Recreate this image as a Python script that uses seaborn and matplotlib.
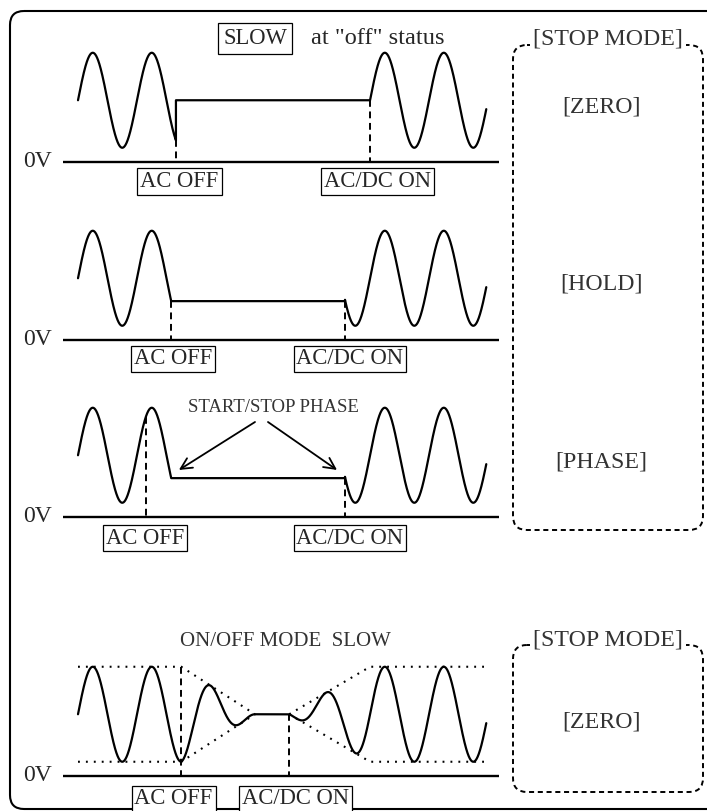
import numpy as np
import matplotlib
matplotlib.use("Agg")
import matplotlib.pyplot as plt
from matplotlib.patches import FancyBboxPatch
import seaborn as sns

# ---------------- data (time in AC cycles, voltage in units of AC amplitude) ----------------
modes = ["ZERO", "HOLD", "PHASE", "SLOW"]
dc_level = 1.3                 # output level of the "0" of the AC, above 0V
ac_amplitude = 1.0
t_begin, t_end = 0.0, 6.92     # drawn span of the waveform
axis_span = [-0.25, 7.14]      # extent of the 0V line
restart_ref = 4.95             # phase reference of the restarted AC (rising zero crossing)
off_command = [1.66, 1.58, 1.15, 1.75]    # "AC OFF" instant
output_stop = [1.66, 1.58, 1.58, 1.75]    # where the AC output actually stops
on_command = [4.95, 4.525, 4.525, 3.58]   # "AC/DC ON" instant
slow_fade_end = 3.0            # SLOW: amplitude has decayed to zero
slow_rise_end = 4.95           # SLOW: amplitude back to full
off_label_t = [1.72, 1.61, 1.14, 1.62]
on_label_t = [5.07, 4.61, 4.61, 3.69]
off_label = "AC OFF"
on_label = "AC/DC ON"
zero_label = "0V"
stop_mode_title = "[STOP MODE]"
stop_labels = ["[ZERO]", "[HOLD]", "[PHASE]", "[ZERO]"]
arrow_tails = [(3.00, 2.0), (3.22, 2.0)]
arrow_heads = [(1.71, 0.99), (4.39, 0.99)]

# ---------------- layout (pixels) ----------------
W, H, DPI = 707, 811, 100
panel_zero_px = [162, 340, 517, 776]
label_offset_px = [19.5, 19, 21, 23]
px_per_cycle = 59.0
px_per_unit = 47.5
wave_origin_px = 78.0

sns.set_style("white")
plt.rcParams["font.family"] = ["Liberation Serif", "DejaVu Serif"]

fig = plt.figure(figsize=(W / DPI, H / DPI), dpi=DPI)

# overlay in pixel coordinates for frames and box labels
ov = fig.add_axes([0, 0, 1, 1])
ov.set_xlim(0, W)
ov.set_ylim(H, 0)
ov.axis("off")

frame = FancyBboxPatch((10, 11), 740, 798, boxstyle="round,pad=0,rounding_size=14",
                       fill=False, ec="black", lw=1.5)
ov.add_patch(frame)

gray = "#333333"
for (top, bot, ty) in [(45, 530, 39.5), (645, 792, 640)]:
    ov.add_patch(FancyBboxPatch((513, top), 190, bot - top,
                                boxstyle="round,pad=0,rounding_size=14",
                                fill=False, ec="black", lw=1.4, ls=(0, (2.6, 1.9))))
    ov.text(608, ty, stop_mode_title, ha="center", va="center", fontsize=17.2,
            color=gray, bbox=dict(boxstyle="square,pad=0.12", fc="white", ec="none"))

label_y = [107, 284, 462, 722]
for lab, y in zip(stop_labels, label_y):
    ov.text(601, y, lab, ha="center", va="center", fontsize=17.2, color=gray)


def build_wave(i):
    mode = modes[i]
    t = np.linspace(t_begin, t_end, 3000)
    pre = dc_level + ac_amplitude * np.sin(2 * np.pi * t)
    post = dc_level + ac_amplitude * np.sin(2 * np.pi * (t - restart_ref))
    if mode == "SLOW":
        off, on = off_command[i], on_command[i]
        down = np.clip(1 - (t - off) / (slow_fade_end - off), 0, 1)
        up = np.clip((t - on) / (slow_rise_end - on), 0, 1)
        v = np.where(t < off, pre,
                     np.where(t < on, dc_level + (pre - dc_level) * down,
                              dc_level + (post - dc_level) * up))
        return t, v
    stop, on = output_stop[i], on_command[i]
    stop_val = dc_level + ac_amplitude * np.sin(2 * np.pi * stop)
    hold = dc_level if mode == "ZERO" else stop_val
    m1 = t < stop
    m3 = t > on
    post_on = dc_level + ac_amplitude * np.sin(2 * np.pi * (on - restart_ref))
    tt = np.concatenate([t[m1], [stop, stop, on, on], t[m3]])
    vv = np.concatenate([pre[m1], [stop_val, hold, hold, post_on], post[m3]])
    return tt, vv


for i, y0 in enumerate(panel_zero_px):
    top_px, bot_px = y0 - 150, y0 + 45
    ax = fig.add_axes([0, (H - bot_px) / H, 1, (bot_px - top_px) / H])
    ax.patch.set_visible(False)
    ax.set_xlim(-wave_origin_px / px_per_cycle, (W - wave_origin_px) / px_per_cycle)
    ax.set_ylim(-45 / px_per_unit, 150 / px_per_unit)
    ax.axis("off")

    t, v = build_wave(i)
    sns.lineplot(x=t, y=v, ax=ax, sort=False, estimator=None, color="black", lw=1.6)
    ax.plot(axis_span, [0, 0], color="black", lw=1.7, solid_capstyle="butt")
    ax.text(-0.69, 0.02, zero_label, ha="center", va="center", fontsize=17, clip_on=False)

    # event markers
    if modes[i] == "SLOW":
        off_top = dc_level + ac_amplitude
        on_top = dc_level
    elif modes[i] == "ZERO":
        off_top = dc_level + ac_amplitude * np.sin(2 * np.pi * output_stop[i])
        on_top = dc_level
    else:
        off_top = dc_level + ac_amplitude * np.sin(2 * np.pi * off_command[i])
        on_top = dc_level + ac_amplitude * np.sin(2 * np.pi * output_stop[i])
    dash = (0, (3.5, 2.4))
    ax.plot([off_command[i]] * 2, [off_top, 0], color="black", lw=1.4, ls=dash)
    ax.plot([on_command[i]] * 2, [on_top, 0], color="black", lw=1.4, ls=dash)

    lab_v = -label_offset_px[i] / px_per_unit
    for tx, s in [(off_label_t[i], off_label), (on_label_t[i], on_label)]:
        ax.text(tx, lab_v, s, ha="center", va="center", fontsize=16.3, clip_on=False,
                bbox=dict(boxstyle="square,pad=0.13", fc="white", ec="black", lw=0.9))

    if i == 0:
        ax.text(3.0, (y0 - 38.5) / px_per_unit, "SLOW", ha="center", va="center",
                fontsize=16.3, bbox=dict(boxstyle="square,pad=0.22", fc="white", ec="black", lw=0.9))
        ax.text((311 - wave_origin_px) / px_per_cycle, (y0 - 38) / px_per_unit,
                'at "off" status', ha="left", va="center", fontsize=17.5)
    if modes[i] == "PHASE":
        ax.text(3.32, (y0 - 408) / px_per_unit, "START/STOP PHASE", ha="center",
                va="center", fontsize=13.5, color=gray)
        for tail, head in zip(arrow_tails, arrow_heads):
            ax.annotate("", xy=head, xytext=tail,
                        arrowprops=dict(arrowstyle="->", lw=1.3, mutation_scale=20,
                                        shrinkA=0, shrinkB=0, color="black"))
    if modes[i] == "SLOW":
        ax.text(3.51, (y0 - 642) / px_per_unit, "ON/OFF MODE  SLOW", ha="center",
                va="center", fontsize=15, color=gray)
        dot = (0, (0.9, 2.9))
        hi, lo = dc_level + ac_amplitude, dc_level - ac_amplitude
        off, on = off_command[i], on_command[i]
        for level in (hi, lo):
            ax.plot([t_begin, off, slow_fade_end], [level, level, dc_level],
                    color="black", lw=1.5, ls=dot)
            ax.plot([on, slow_rise_end, t_end], [dc_level, level, level],
                    color="black", lw=1.5, ls=dot)

fig.savefig("out.png", dpi=DPI)
